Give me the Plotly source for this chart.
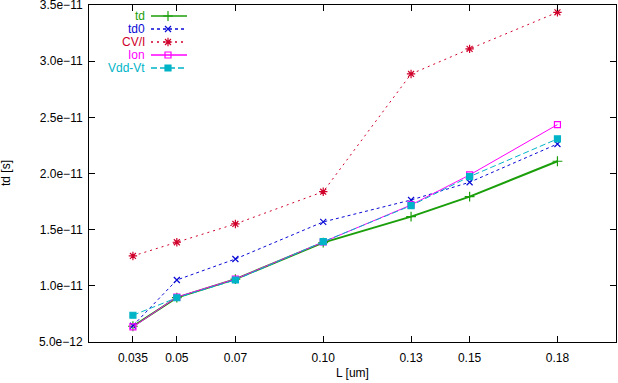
import plotly.graph_objects as go

# ---- data ----
L = [0.035, 0.05, 0.07, 0.10, 0.13, 0.15, 0.18]
tick_labels = ["0.035", "0.05", "0.07", "0.10", "0.13", "0.15", "0.18"]
y_ticks = [5e-12, 1e-11, 1.5e-11, 2e-11, 2.5e-11, 3e-11, 3.5e-11]

td = [6.40e-12, 8.95e-12, 1.060e-11, 1.385e-11, 1.616e-11, 1.794e-11, 2.109e-11]
td0 = [6.45e-12, 1.052e-11, 1.239e-11, 1.569e-11, 1.764e-11, 1.922e-11, 2.263e-11]
cvi = [1.266e-11, 1.388e-11, 1.551e-11, 1.838e-11, 2.886e-11, 3.109e-11, 3.435e-11]
ion = [6.34e-12, 9.00e-12, 1.060e-11, 1.390e-11, 1.720e-11, 1.987e-11, 2.435e-11]
vddvt = [7.38e-12, 8.94e-12, 1.052e-11, 1.393e-11, 1.714e-11, 1.972e-11, 2.308e-11]

series_names = ["td", "td0", "CV/I", "Ion", "Vdd-Vt"]
series_values = [td, td0, cvi, ion, vddvt]

# ---- styles ----
colors = ["#1a9e0a", "#0a0ad6", "#d0002a", "#ff00ff", "#00b4c8"]
dashes = ["solid", "3px,3px", "2px,4px", "solid", "6px,3px"]
widths = [2, 1, 1, 1, 1]
symbols = ["cross-thin-open", "x-thin-open", "asterisk-open", "square-open", "square"]
msizes = [7, 6, 7, 6, 6]

FONT = "Liberation Sans, Arial, sans-serif"

# plot-area pixel geometry (for the overlay legend axis)
PX_L, PX_R, PX_T, PX_B = 89, 616, 5, 342

fig = go.Figure()

for name, vals, c, d, w, s, ms in zip(series_names, series_values, colors, dashes, widths, symbols, msizes):
    fig.add_trace(go.Scatter(
        x=L, y=vals, name=name, mode="lines+markers",
        line=dict(color=c, dash=d, width=w),
        marker=dict(symbol=s, size=ms, color=c, line=dict(color=c, width=1.2)),
        showlegend=False,
    ))

# ---- custom gnuplot-style legend (text left, sample right) on a pixel overlay axis ----
legend_rows = [16, 29, 42, 55, 68]
annotations = []
for name, c, d, w, s, ms, ry in zip(series_names, colors, dashes, widths, symbols, msizes, legend_rows):
    fig.add_trace(go.Scatter(
        x=[151, 187], y=[ry, ry], mode="lines",
        line=dict(color=c, dash=d, width=1.3),
        xaxis="x2", yaxis="y2", showlegend=False, hoverinfo="skip",
    ))
    fig.add_trace(go.Scatter(
        x=[168], y=[ry], mode="markers",
        marker=dict(symbol=s, size=ms, color=c, line=dict(color=c, width=1.2)),
        xaxis="x2", yaxis="y2", showlegend=False, hoverinfo="skip",
    ))
    annotations.append(dict(
        x=146, y=ry, xref="x2", yref="y2", text=name, showarrow=False,
        xanchor="right", yanchor="middle", borderpad=0,
        font=dict(family=FONT, size=12, color=c),
    ))

annotations.append(dict(
    text="L [um]", x=0.5, y=(PX_B - 373) / (PX_B - PX_T), xref="paper", yref="paper",
    showarrow=False, xanchor="center", yanchor="middle",
    font=dict(family=FONT, size=12, color="black")))
annotations.append(dict(
    text="td [s]", x=(6 - PX_L) / (PX_R - PX_L), y=(PX_B - 173) / (PX_B - PX_T),
    xref="paper", yref="paper", showarrow=False, textangle=-90,
    xanchor="center", yanchor="middle",
    font=dict(family=FONT, size=12, color="black")))

axis_common = dict(
    showline=True, linecolor="black", linewidth=1, mirror="ticks",
    ticks="inside", ticklen=6, tickcolor="black", tickwidth=1,
    showgrid=False, zeroline=False, automargin=False,
    tickfont=dict(family=FONT, size=12, color="black"),
    ticklabeloverflow="allow",
)

fig.update_layout(
    width=618, height=383,
    margin=dict(l=PX_L, r=618 - PX_R, t=PX_T, b=383 - PX_B),
    paper_bgcolor="white", plot_bgcolor="white",
    font=dict(family=FONT, size=12, color="black"),
    xaxis=dict(
        **axis_common,
        range=[0.02, 0.2],
        tickvals=L, ticktext=tick_labels,
        ticklabelstandoff=5,
    ),
    yaxis=dict(
        **axis_common,
        range=[5e-12, 3.5e-11],
        tickvals=y_ticks,
        tickformat=".1e",
        ticklabelstandoff=3,
    ),
    xaxis2=dict(overlaying="x", range=[PX_L, PX_R], visible=False, fixedrange=True),
    yaxis2=dict(overlaying="y", range=[PX_B, PX_T], visible=False, fixedrange=True),
    annotations=annotations,
)

fig.write_html(
    "out.html",
    config={"displayModeBar": False},
    post_script="document.body.style.margin='0';document.body.style.overflow='hidden';",
)
